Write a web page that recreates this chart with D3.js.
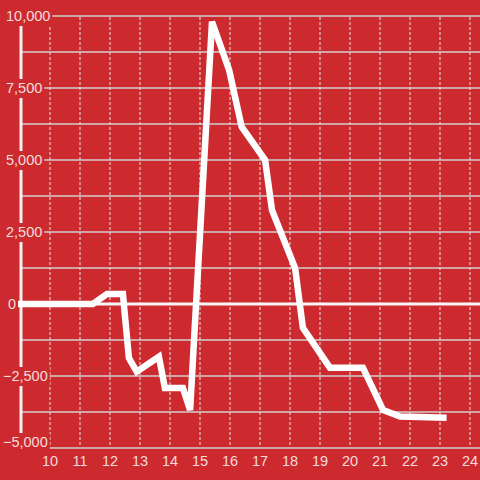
<html lang="en">
  <head>
    <meta charset="UTF-8" />
    <title>Line chart</title>
    <script src="https://d3js.org/d3.v7.min.js"></script>
  </head>
  <style>
    body {
      margin: 0;
      background: #cd2a2f;
    }

    svg {
      display: block;
    }

    text {
      font-family: "Liberation Sans", Arial, sans-serif;
      font-size: 14.5px;
      fill: #f4dcdc;
    }
  </style>
  <body>
    <div id="viz">
      <svg width="480" height="480"></svg>
    </div>
  </body>
  <footer>
    <script>
      var hours = [8.8, 11.43, 11.9, 12.43, 12.63, 12.89, 13.63, 13.83, 14.43, 14.67, 15.4, 15.97, 16.39, 17.17, 17.4, 18.17, 18.43, 19.33, 20.43, 21.1, 21.67, 23.22];
      var values = [0, 0, 350, 350, -1875, -2350, -1830, -2920, -2920, -3680, 9800, 8125, 6150, 5000, 3260, 1250, -830, -2210, -2210, -3680, -3910, -3950];
      var xTicks = [10, 11, 12, 13, 14, 15, 16, 17, 18, 19, 20, 21, 22, 23, 24];
      var yTicks = [-5000, -2500, 0, 2500, 5000, 7500, 10000];
      var yGrid = [-5000, -3750, -2500, -1250, 0, 1250, 2500, 3750, 5000, 6250, 7500, 8750, 10000];

      var data = hours.map(function (h, i) {
        return { x: h, y: values[i] };
      });

      var x = d3.scaleLinear().domain([10, 24]).range([50, 470]);
      var y = d3.scaleLinear().domain([-5000, 10000]).range([448, 16]);

      var svg = d3.select("svg");

      // horizontal grid
      svg.append("g")
        .selectAll("line")
        .data(yGrid.filter(function (d) { return d !== 0; }))
        .enter()
        .append("line")
        .attr("x1", 22)
        .attr("x2", 480)
        .attr("y1", function (d) { return y(d); })
        .attr("y2", function (d) { return y(d); })
        .style("stroke", "#cfcfcf")
        .style("stroke-width", "1.5px");

      // vertical dotted grid
      svg.append("g")
        .selectAll("line")
        .data(xTicks)
        .enter()
        .append("line")
        .attr("x1", function (d) { return x(d); })
        .attr("x2", function (d) { return x(d); })
        .attr("y1", y(10000) + 1)
        .attr("y2", y(-5000) - 1)
        .style("stroke", "#e6e6e6")
        .style("stroke-width", "1px")
        .style("stroke-dasharray", "3,2");

      // zero line
      svg.append("line")
        .attr("x1", 17)
        .attr("x2", 480)
        .attr("y1", y(0))
        .attr("y2", y(0))
        .style("stroke", "#f7f7f7")
        .style("stroke-width", "3px");

      // y axis line
      svg.append("line")
        .attr("x1", 21)
        .attr("x2", 21)
        .attr("y1", y(10000))
        .attr("y2", y(-5000))
        .style("stroke", "#f2f2f2")
        .style("stroke-width", "3px");

      // data line
      var line = d3.line()
        .x(function (d) { return x(d.x); })
        .y(function (d) { return y(d.y); });

      svg.append("path")
        .datum(data)
        .attr("d", line)
        .style("fill", "none")
        .style("stroke", "#ffffff")
        .style("stroke-width", "6.5px");

      // y labels with background
      var fmt = d3.format(",");
      var yLab = svg.append("g")
        .selectAll("g")
        .data(yTicks)
        .enter()
        .append("g");

      yLab.append("text")
        .attr("x", function (d) { return d < 0 ? 3 : (d === 0 ? 8 : 6); })
        .attr("y", function (d) { return y(d) + 5 - (d === -5000 ? 6 : 0); })
        .text(function (d) { return fmt(d); });

      yLab.each(function () {
        var g = d3.select(this);
        var b = g.select("text").node().getBBox();
        g.insert("rect", "text")
          .attr("x", b.x - 4)
          .attr("y", b.y - 1)
          .attr("width", b.width + 6)
          .attr("height", b.height + 3)
          .style("fill", "#cd2a2f");
      });

      // x labels
      svg.append("g")
        .selectAll("text")
        .data(xTicks)
        .enter()
        .append("text")
        .attr("x", function (d) { return x(d); })
        .attr("y", 466)
        .style("text-anchor", "middle")
        .text(function (d) { return d; });
    </script>
  </footer>
</html>
